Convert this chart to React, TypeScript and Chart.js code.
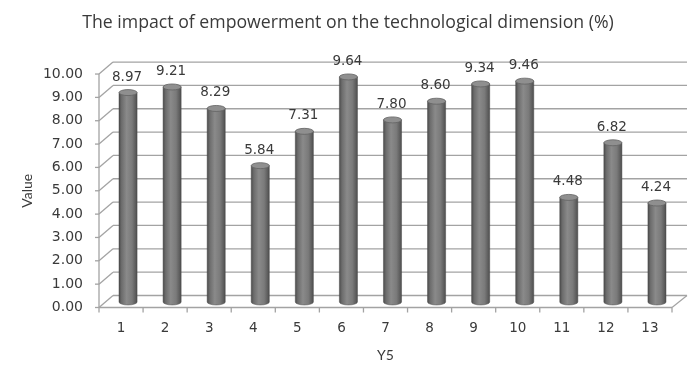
import { useEffect, useRef } from "react";
import { Chart, registerables } from "chart.js";

Chart.register(...registerables);

// Category labels along the x axis
const categories = ["1", "2", "3", "4", "5", "6", "7", "8", "9", "10", "11", "12", "13"];
// Measured values per category (%)
const values = [8.97, 9.21, 8.29, 5.84, 7.31, 9.64, 7.8, 8.6, 9.34, 9.46, 4.48, 6.82, 4.24];
// Y axis range and step
const yMin = 0;
const yMax = 10;
const yStep = 1;

const chartTitle = "The impact of empowerment on the technological dimension (%)";
const xAxisTitle = "Y5";
const yAxisTitle = "Value";

// Perspective depth of the back wall relative to the front axis
const DEPTH_X = 14;
const DEPTH_Y = -12;
// Bars stand mid-way between the front axis and the back wall
const BAR_SHIFT_X = 7;
const BAR_SHIFT_Y = -5.5;

const GRID_COLOR = "#a3a3a3";
const TEXT_COLOR = "#3a3a3a";
const NUM_FONT = "'DejaVu Sans', Verdana, sans-serif";
const LABEL_FONT = "Lato, 'Open Sans', sans-serif";
const TITLE_FONT = "'Open Sans', Lato, sans-serif";

const wallsPlugin = {
  id: "walls3d",
  beforeDatasetsDraw(chart: any) {
    const { ctx, chartArea, scales } = chart;
    const { left, right, top, bottom } = chartArea;
    const y = scales.y;
    const x = scales.x;
    const line = (x1: number, y1: number, x2: number, y2: number) => {
      ctx.beginPath();
      ctx.moveTo(x1, y1);
      ctx.lineTo(x2, y2);
      ctx.stroke();
    };
    ctx.save();
    ctx.strokeStyle = GRID_COLOR;
    ctx.lineWidth = 1.3;
    y.ticks.forEach((t: any) => {
      const py = y.getPixelForValue(t.value);
      line(left - 4, py, left, py);
      line(left, py, left + DEPTH_X, py + DEPTH_Y);
      line(left + DEPTH_X, py + DEPTH_Y, right + DEPTH_X + 1, py + DEPTH_Y);
    });
    // front vertical axis and floor edges
    line(left, top, left, bottom);
    line(left, bottom, right, bottom);
    line(right, bottom, right + DEPTH_X + 1, bottom + DEPTH_Y);
    // category boundary tick marks
    const n = categories.length;
    const half = (x.getPixelForValue(1) - x.getPixelForValue(0)) / 2;
    for (let i = 0; i <= n; i++) {
      const px = x.getPixelForValue(0) - half + i * half * 2;
      line(px, bottom, px, bottom + 5);
    }
    ctx.restore();
  },
};

const cylindersPlugin = {
  id: "cylinders",
  afterDatasetsDraw(chart: any) {
    const { ctx } = chart;
    const meta = chart.getDatasetMeta(0);
    ctx.save();
    meta.data.forEach((bar: any, i: number) => {
      const { x, y, base, width } = bar.getProps(["x", "y", "base", "width"], true);
      const cx = x + BAR_SHIFT_X;
      const rx = width / 2;
      const ry = 3;
      const topY = y + BAR_SHIFT_Y;
      const botY = base + BAR_SHIFT_Y;

      const g = ctx.createLinearGradient(cx - rx, 0, cx + rx, 0);
      g.addColorStop(0, "#4c4c4c");
      g.addColorStop(0.14, "#6c6c6c");
      g.addColorStop(0.42, "#8a8a8a");
      g.addColorStop(0.72, "#7a7a7a");
      g.addColorStop(1, "#4f4f4f");

      ctx.beginPath();
      ctx.moveTo(cx - rx, topY);
      ctx.lineTo(cx - rx, botY);
      ctx.ellipse(cx, botY, rx, ry, 0, Math.PI, 0, true);
      ctx.lineTo(cx + rx, topY);
      ctx.closePath();
      ctx.fillStyle = g;
      ctx.fill();
      ctx.strokeStyle = "rgba(70,70,70,0.6)";
      ctx.lineWidth = 0.8;
      ctx.stroke();

      ctx.beginPath();
      ctx.ellipse(cx, topY, rx, ry, 0, 0, Math.PI * 2);
      ctx.fillStyle = "#8f8f8f";
      ctx.fill();
      ctx.strokeStyle = "#626262";
      ctx.lineWidth = 0.8;
      ctx.stroke();

      ctx.font = `13.5px ${NUM_FONT}`;
      ctx.fillStyle = TEXT_COLOR;
      ctx.textAlign = "center";
      ctx.textBaseline = "middle";
      ctx.fillText(values[i].toFixed(2), cx - 1, topY - 15.5);
    });
    ctx.restore();
  },
};

export default function App() {
  const canvasRef = useRef<HTMLCanvasElement | null>(null);

  useEffect(() => {
    if (!canvasRef.current) return;
    const chart = new Chart(canvasRef.current, {
      type: "bar",
      data: {
        labels: categories,
        datasets: [
          {
            data: values,
            backgroundColor: "rgba(0,0,0,0)",
            borderWidth: 0,
            barPercentage: 0.41,
            categoryPercentage: 1,
          },
        ],
      },
      options: {
        responsive: false,
        animation: false,
        events: [],
        layout: { padding: { left: 24, right: 25, top: 0, bottom: 0 } },
        plugins: {
          legend: { display: false },
          tooltip: { enabled: false },
          title: {
            display: true,
            text: chartTitle,
            color: TEXT_COLOR,
            font: { family: TITLE_FONT, size: 17.7, weight: "normal" },
            padding: { top: 12, bottom: 40.8 },
          },
        },
        scales: {
          x: {
            grid: { display: false, drawTicks: false },
            border: { display: false },
            ticks: { color: TEXT_COLOR, font: { family: NUM_FONT, size: 13.5 }, padding: 13 },
            title: {
              display: true,
              text: xAxisTitle,
              color: TEXT_COLOR,
              font: { family: LABEL_FONT, size: 14 },
              padding: { top: 0, bottom: 1 },
            },
            afterFit: (s: any) => {
              s.height = 57.5;
            },
          },
          y: {
            min: yMin,
            max: yMax,
            grid: { display: false, drawTicks: false },
            border: { display: false },
            ticks: {
              stepSize: yStep,
              color: TEXT_COLOR,
              font: { family: NUM_FONT, size: 14 },
              padding: 16,
              callback: (v: any) => Number(v).toFixed(2),
            },
            title: {
              display: true,
              text: yAxisTitle,
              color: TEXT_COLOR,
              font: { family: LABEL_FONT, size: 14 },
              padding: { top: -5, bottom: 0 },
            },
            afterFit: (s: any) => {
              s.width = 75;
            },
          },
        },
      },
      plugins: [wallsPlugin, cylindersPlugin],
    } as any);
    return () => chart.destroy();
  }, []);

  return (
    <div style={{ position: "absolute", left: 0, top: 0, width: 697, height: 365, background: "#fff" }}>
      <canvas ref={canvasRef} width={697} height={365} style={{ display: "block" }} />
    </div>
  );
}
